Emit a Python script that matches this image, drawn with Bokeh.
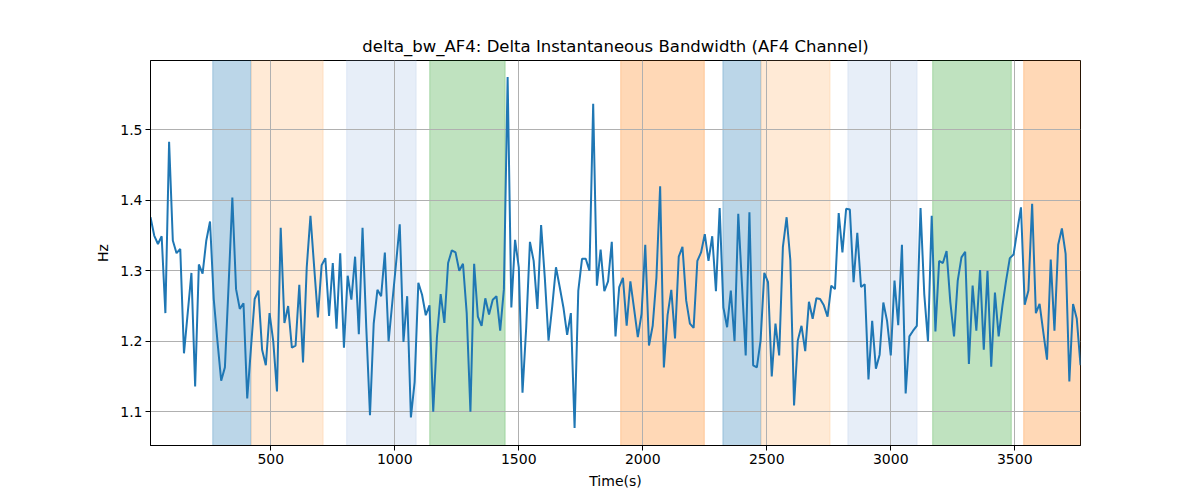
from bokeh.plotting import figure
from bokeh.models import ColumnDataSource, FixedTicker, Range1d
from bokeh.embed import file_html
from bokeh.resources import INLINE

# time step of the bandwidth windows (s)
t_start = 15
t_step = 15

delta_bw = [
    1.376, 1.350, 1.338, 1.349, 1.240, 1.483, 1.343, 1.325, 1.331, 1.183,
    1.240, 1.297, 1.136, 1.309, 1.296, 1.343, 1.370, 1.260, 1.200, 1.144,
    1.163, 1.280, 1.404, 1.274, 1.246, 1.254, 1.119, 1.190, 1.260, 1.272,
    1.188, 1.166, 1.240, 1.200, 1.129, 1.361, 1.226, 1.250, 1.191, 1.194,
    1.280, 1.170, 1.305, 1.378, 1.305, 1.234, 1.308, 1.318, 1.236, 1.311,
    1.218, 1.325, 1.191, 1.293, 1.259, 1.320, 1.210, 1.361, 1.220, 1.095,
    1.225, 1.273, 1.264, 1.326, 1.200, 1.255, 1.310, 1.366, 1.199, 1.264,
    1.092, 1.142, 1.283, 1.266, 1.237, 1.251, 1.100, 1.206, 1.267, 1.226,
    1.311, 1.329, 1.326, 1.300, 1.310, 1.240, 1.100, 1.310, 1.235, 1.222,
    1.261, 1.238, 1.259, 1.264, 1.215, 1.274, 1.575, 1.248, 1.344, 1.305,
    1.127, 1.220, 1.341, 1.314, 1.246, 1.365, 1.290, 1.201, 1.250, 1.305,
    1.277, 1.248, 1.209, 1.240, 1.077, 1.272, 1.317, 1.317, 1.300, 1.537,
    1.279, 1.330, 1.271, 1.285, 1.341, 1.207, 1.277, 1.290, 1.222, 1.285,
    1.246, 1.206, 1.239, 1.337, 1.194, 1.222, 1.290, 1.420, 1.163, 1.237,
    1.273, 1.204, 1.320, 1.334, 1.258, 1.225, 1.219, 1.314, 1.326, 1.352,
    1.314, 1.349, 1.271, 1.389, 1.248, 1.220, 1.272, 1.200, 1.381, 1.280,
    1.180, 1.383, 1.166, 1.163, 1.201, 1.297, 1.284, 1.150, 1.225, 1.180,
    1.334, 1.376, 1.315, 1.109, 1.201, 1.222, 1.186, 1.256, 1.232, 1.261,
    1.260, 1.251, 1.235, 1.279, 1.274, 1.382, 1.326, 1.388, 1.387, 1.284,
    1.354, 1.277, 1.281, 1.146, 1.229, 1.161, 1.181, 1.255, 1.229, 1.180,
    1.286, 1.223, 1.337, 1.126, 1.207, 1.215, 1.222, 1.389, 1.267, 1.200,
    1.378, 1.214, 1.314, 1.311, 1.328, 1.256, 1.207, 1.286, 1.319, 1.327,
    1.168, 1.279, 1.215, 1.301, 1.188, 1.300, 1.164, 1.269, 1.207, 1.250,
    1.286, 1.318, 1.323, 1.357, 1.390, 1.252, 1.272, 1.395, 1.240, 1.253,
    1.213, 1.174, 1.316, 1.215, 1.337, 1.360, 1.324, 1.143, 1.253, 1.232,
    1.166,
]
time_s = [t_start + t_step * i for i in range(len(delta_bw))]

# shaded segments
span_start = [266, 422, 806, 1141, 1911, 2323, 2477, 2827, 3169, 3536]
span_end = [420, 711, 1086, 1445, 2248, 2476, 2755, 3106, 3486, 3800]
span_color = ["#1f77b4", "#ffbb78", "#aec7e8", "#2ca02c", "#ff7f0e",
              "#1f77b4", "#ffbb78", "#aec7e8", "#2ca02c", "#ff7f0e"]

x_ticks = [500, 1000, 1500, 2000, 2500, 3000, 3500]
y_ticks = [1.1, 1.2, 1.3, 1.4, 1.5]

FONT = "DejaVu Sans"

p = figure(width=1200, height=500,
           output_backend="svg",
           toolbar_location=None,
           x_range=Range1d(time_s[0], time_s[-1]),
           y_range=Range1d(1.0522, 1.5983),
           min_border_left=150, min_border_right=120,
           min_border_top=60, min_border_bottom=55,
           title="delta_bw_AF4: Delta Instantaneous Bandwidth (AF4 Channel)")

p.title.align = "center"
p.title.text_font = FONT
p.title.text_font_size = "16.5px"
p.title.text_font_style = "normal"
p.title.text_color = "black"

#spans
spans = ColumnDataSource(dict(left=span_start, right=span_end,
                              color=span_color))
r = p.quad(left="left", right="right", bottom=0, top=3, source=spans,
           fill_color="color", fill_alpha=0.3,
           line_color="color", line_alpha=0.3, line_width=1)
r.level = "image"

#signal
src = ColumnDataSource(dict(t=time_s, bw=delta_bw))
p.line("t", "bw", source=src, line_color="#1f77b4", line_width=2)

p.xaxis.ticker = FixedTicker(ticks=x_ticks)
p.yaxis.ticker = FixedTicker(ticks=y_ticks)
p.xaxis.axis_label = "Time(s)"
p.yaxis.axis_label = "Hz"

for ax in (p.xaxis, p.yaxis):
    ax.axis_label_text_font = FONT
    ax.axis_label_text_font_size = "14px"
    ax.axis_label_text_font_style = "normal"
    ax.axis_label_text_color = "black"
    ax.major_label_text_font = FONT
    ax.major_label_text_font_size = "14px"
    ax.major_label_text_color = "black"
    ax.axis_line_color = "black"
    ax.major_tick_line_color = "black"
    ax.major_tick_in = 0
    ax.major_tick_out = 5
    ax.minor_tick_line_color = None
    ax.major_label_standoff = 3
    ax.axis_label_standoff = 6

p.grid.grid_line_color = "#b0b0b0"
p.grid.grid_line_width = 1
p.outline_line_color = "black"
p.outline_line_alpha = 1

open("out.html", "w").write(file_html(p, INLINE))
